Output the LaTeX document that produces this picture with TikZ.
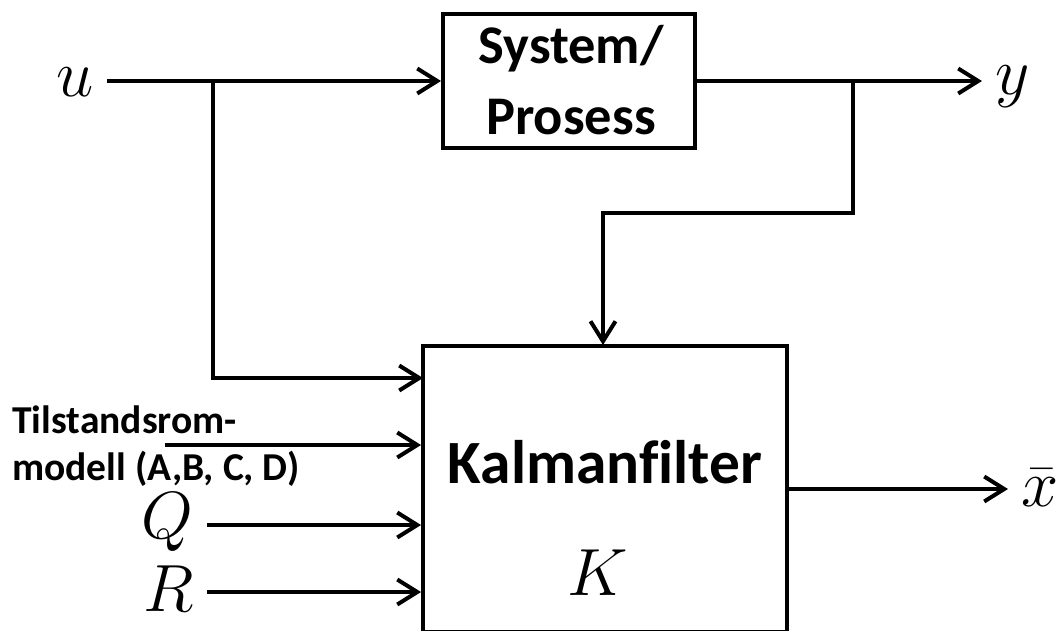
\RequirePackage{fix-cm}
\documentclass[tikz,border=0pt]{standalone}
\usepackage{fontspec}
\setmainfont{Carlito}[Ligatures=NoCommon]
\usetikzlibrary{positioning,arrows.meta,calc}

\begin{document}
\begin{tikzpicture}[
  x=0.02cm, y=-0.02cm,
  blk/.style={rectangle, draw, line width=0.08cm, inner sep=0pt},
  title/.style={font=\fontsize{31}{40}\selectfont\bfseries, align=center},
  small/.style={font=\fontsize{22.5}{27}\selectfont\bfseries, align=left},
  sym/.style={font=\fontsize{38}{40}\selectfont, inner sep=7.5pt},
  arrow/.style={-{Straight Barb[length=0.4cm, width=0.5cm]}, line width=0.08cm},
]
\useasboundingbox (0,0) rectangle (1062,630);

\node[blk, minimum width=5.04cm, minimum height=2.68cm] (sys) at (569,81) {};
\node[title] (systxt) at (571,80) {System/\\Prosess};
\node[blk, minimum width=7.28cm, minimum height=5.74cm] (kal) at (605,489) {};
\node[title, font=\fontsize{35}{40}\selectfont\bfseries] (kaltxt) at (605,462) {Kalmanfilter};
\node[sym] (K) at (598,573) {$K$};

\node[sym, anchor=east] (u) at (107,82) {$u$};
\node[sym, anchor=west] (y) at (982,87) {$y$};
\node[sym, anchor=west] (xbar) at (1008,488) {$\bar{x}$};
\node[sym, anchor=east] (Q) at (207,522) {$Q$};
\node[sym, anchor=east] (R) at (207,589) {$R$};
\node[small, anchor=west, inner sep=0pt] (tsm) at (12,446) {Tilstandsrom-\\modell (A,B, C, D)};

\coordinate (bu) at (213,81);
\coordinate (by) at (853,81);
\coordinate (k1) at (423,378);
\coordinate (k2) at (603,345);
\coordinate (tsm0) at (165,445);

\draw[arrow] (u.east |- sys.west) -- (sys.west);
\draw[arrow] (sys.east) -- (y.west |- sys.east);
\draw[arrow] (bu) |- (k1);
\draw[arrow] (by) -- ++(0,132) -| (k2);
\draw[arrow] (tsm0) -- (kal.west |- tsm0);
\draw[arrow] (Q.east |- 0,525) -- (kal.west |- 0,525);
\draw[arrow] (R.east |- 0,592) -- (kal.west |- 0,592);
\draw[arrow] (kal.east) -- (xbar.west |- kal.east);

\end{tikzpicture}
\end{document}
